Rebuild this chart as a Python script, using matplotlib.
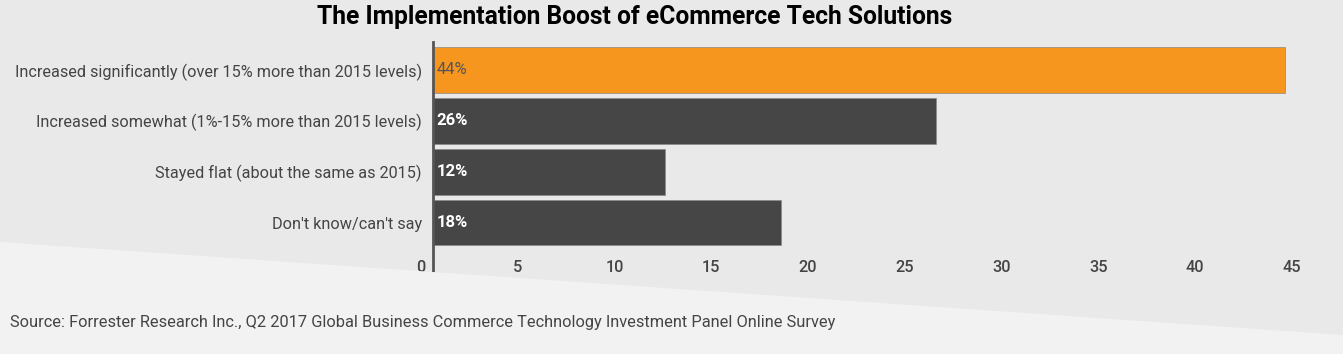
import matplotlib.pyplot as plt
from matplotlib.patches import Polygon
from matplotlib.transforms import ScaledTranslation

plt.rcParams['font.family'] = ['Roboto', 'DejaVu Sans']

categories = ["Increased significantly (over 15% more than 2015 levels)",
              "Increased somewhat (1%-15% more than 2015 levels)",
              "Stayed flat (about the same as 2015)",
              "Don't know/can't say"]
values = [44, 26, 12, 18]
bar_colors = ['#f7961f', '#464646', '#464646', '#464646']
label_colors = ['#555555', 'white', 'white', 'white']
label_weights = ['normal', 'bold', 'bold', 'bold']
xticks = [0, 5, 10, 15, 20, 25, 30, 35, 40, 45]

W, H = 1343, 354
fig = plt.figure(figsize=(W / 100, H / 100), dpi=100)
fig.patch.set_facecolor('#e9e9e9')

# lighter diagonal band at the bottom
fig.patches.append(Polygon([(0, 1 - 242 / H), (1, 1 - 335 / H), (1, 0), (0, 0)],
                           closed=True, transform=fig.transFigure,
                           facecolor='#f2f2f2', edgecolor='none', zorder=0))

ax = fig.add_axes([433 / W, 1 - 277 / H, 900 / W, (277 - 42) / H])
ax.set_facecolor('none')
y = list(range(len(categories)))
ax.barh(y, values, height=0.9, color=bar_colors, edgecolor='#8a8a8a', linewidth=0.5)
ax.set_xlim(0, 46.5)
ax.set_ylim(4.07, -0.55)

for i, v in enumerate(values):
    ax.text(0.2, i, f"{v}%", va='center', ha='left', fontsize=12,
            color=label_colors[i], fontweight=label_weights[i])

ax.set_yticks(y)
ax.set_yticklabels(categories, fontsize=11.7, color='#444444')
ax.set_xticks(xticks)
ax.set_xticklabels([str(t) for t in xticks], fontsize=11.7, color='#444444',
                   fontweight='medium')
ax.tick_params(axis='y', length=0, pad=8)
ax.tick_params(axis='x', length=0, pad=-12)
off = ScaledTranslation(-12 / 100, 0, fig.dpi_scale_trans)
for lab in ax.get_xticklabels():
    lab.set_transform(lab.get_transform() + off)

for s in ['top', 'right', 'bottom']:
    ax.spines[s].set_visible(False)
ax.spines['left'].set_color('#555555')
ax.spines['left'].set_linewidth(2)

fig.text(635 / W, 1 - 17 / H, "The Implementation Boost of eCommerce Tech Solutions",
         ha='center', va='center', fontsize=17.7, fontweight='bold', color='black')
fig.text(10 / W, 1 - 322 / H,
         "Source: Forrester Research Inc., Q2 2017 Global Business Commerce Technology Investment Panel Online Survey",
         ha='left', va='center', fontsize=11.8, color='#444444')

fig.savefig('out.png', dpi=100, facecolor=fig.get_facecolor())
